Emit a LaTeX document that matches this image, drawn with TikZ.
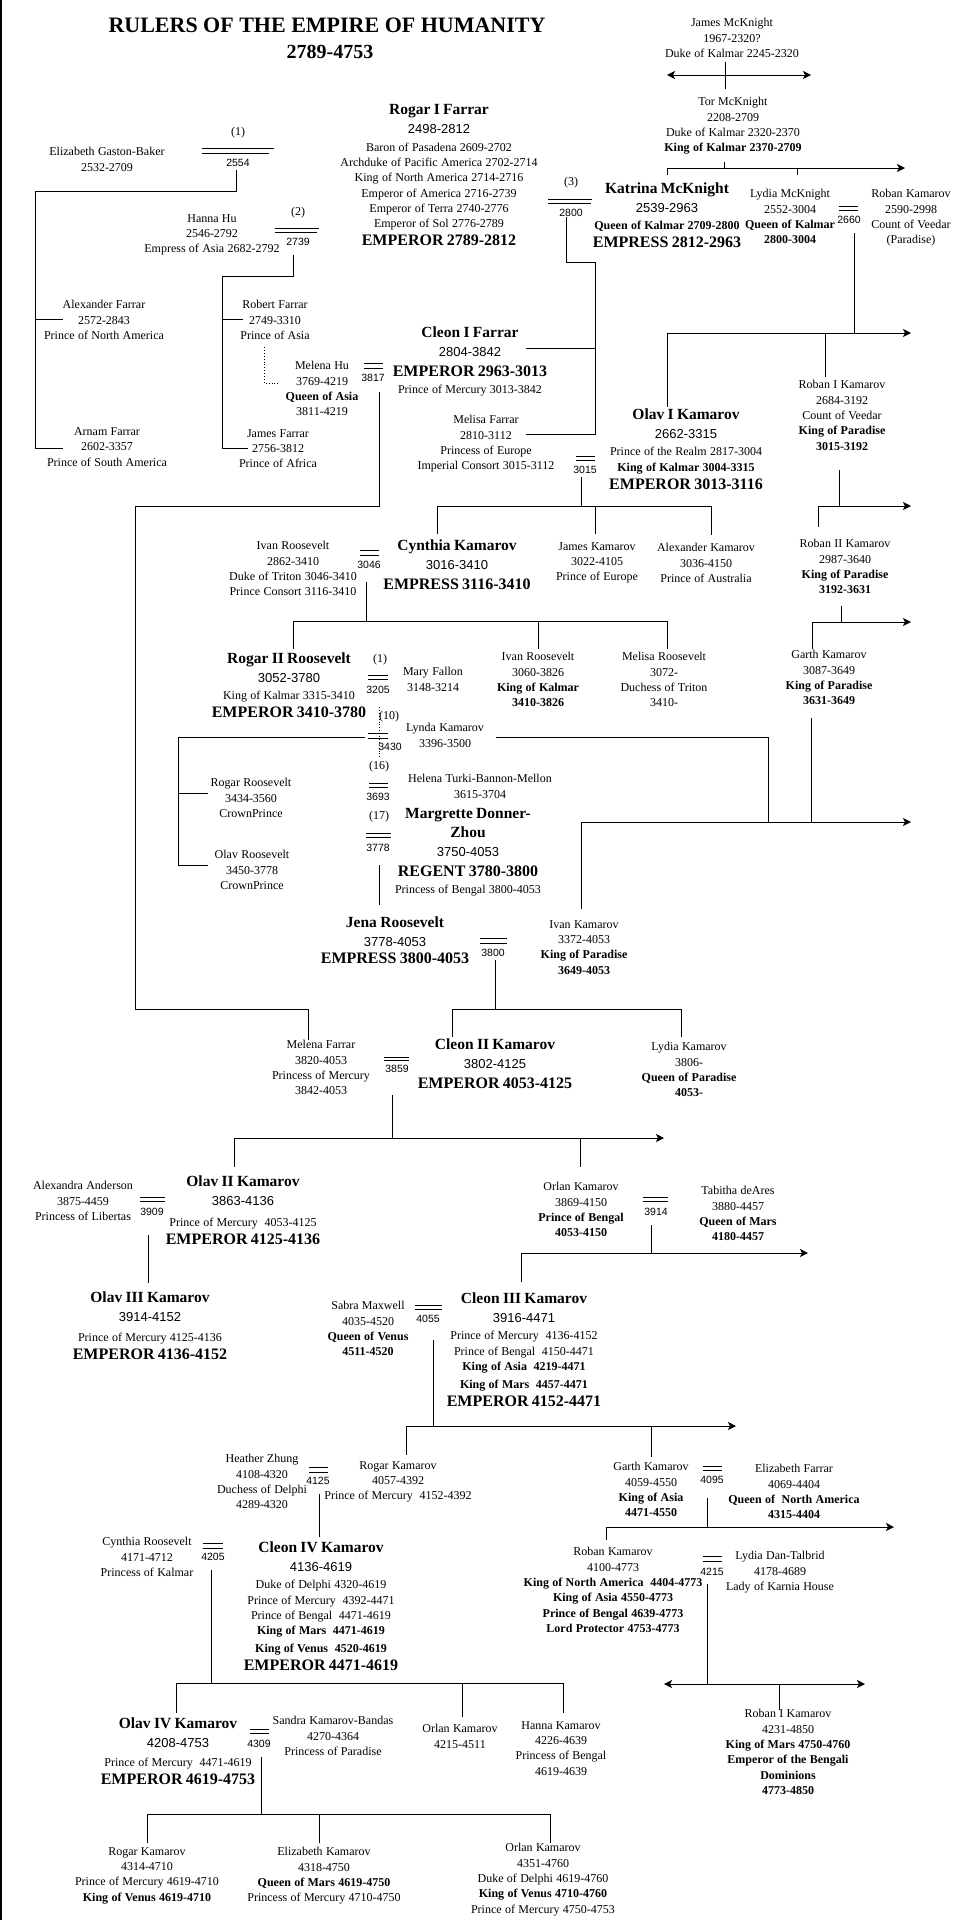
\documentclass[tikz,border=0pt]{standalone}
\usepackage{fontspec}
\setmainfont{Liberation Serif}
\setsansfont{Liberation Sans}
\usetikzlibrary{arrows.meta}
\newcommand\pNm[1]{{\fontsize{15.5}{19}\selectfont\bfseries #1\par}}
\newcommand\pDt[1]{{\fontsize{13}{19}\selectfont\sffamily #1\par}\vspace{2pt}}
\newcommand\pEm[1]{{\fontsize{16}{18}\selectfont\bfseries #1\par}\vspace{1.5pt}}
\newcommand\pSm[1]{{\fontsize{12}{15.3}\selectfont #1\par}}
\newcommand\pSb[1]{{\fontsize{12}{15.3}\selectfont\bfseries #1\par}}
\begin{document}
\begin{tikzpicture}[x=1pt,y=-1pt,
 ln/.style={line width=1pt},
 dl/.style={line width=0.9pt},
 dt/.style={line width=0.9pt,dotted},
 arr/.style={ln,-{Stealth[length=8pt,width=8pt,inset=2pt]}},
 darr/.style={ln,{Stealth[length=8pt,width=8pt,inset=2pt]}-{Stealth[length=8pt,width=8pt,inset=2pt]}},
 pn/.style={anchor=north,yshift=4.7pt,text width=240pt,align=center,inner sep=0pt,execute at begin node={\parindent=0pt}},
 pk/.style={anchor=north,yshift=5.5pt,text width=240pt,align=center,inner sep=0pt,execute at begin node={\parindent=0pt}},
 yr/.style={font=\sffamily\fontsize{10.5}{12}\selectfont,inner sep=1pt},
 lb/.style={font=\fontsize{12}{14}\selectfont,inner sep=0pt},
 ttl/.style={font=\bfseries\fontsize{22}{26}\selectfont,inner sep=0pt},
 ttlb/.style={font=\bfseries\fontsize{20}{24}\selectfont,inner sep=0pt}]
\useasboundingbox (0,0) rectangle (969,1920);
\fill[white] (0,0) rectangle (969,1920);
\draw[line width=1.5pt] (0.75,0) -- (0.75,1920);

% titles
\node[ttl] (title) at (327,25) {RULERS OF THE EMPIRE OF HUMANITY};
\node[ttlb] (title2) at (330,52) {2789-4753};

% people
\node[pn] (egb) at (107,152) {\pSm{Elizabeth Gaston-Baker}\pSm{2532-2709}};
\node[pk] (rogar1) at (439,110) {\pNm{Rogar I Farrar}\pDt{2498-2812}\pSm{Baron of Pasadena 2609-2702}\pSm{Archduke of Pacific America 2702-2714}\pSm{King of North America 2714-2716}\pSm{Emperor of America 2716-2739}\pSm{Emperor of Terra 2740-2776}\pSm{Emperor of Sol 2776-2789}\pEm{EMPEROR 2789-2812}};
\node[pn] (hannahu) at (212,219) {\pSm{Hanna Hu}\pSm{2546-2792}\pSm{Empress of Asia 2682-2792}};
\node[pn] (alexf) at (104,305) {\pSm{Alexander Farrar}\pSm{2572-2843}\pSm{Prince of North America}};
\node[pn] (robertf) at (275,305) {\pSm{Robert Farrar}\pSm{2749-3310}\pSm{Prince of Asia}};
\node[pn] (arnamf) at (107,432) {\pSm{Arnam Farrar}\pSm{2602-3357}\pSm{Prince of South America}};
\node[pn] (jamesf) at (278,434) {\pSm{James Farrar}\pSm{2756-3812}\pSm{Prince of Africa}};
\node[pn] (melenahu) at (322,366) {\pSm{Melena Hu}\pSm{3769-4219}\pSb{Queen of Asia}\pSm{3811-4219}};
\node[pn] (jamesmck) at (732,23) {\pSm{James McKnight}\pSm{1967-2320?}\pSm{Duke of Kalmar 2245-2320}};
\node[pn] (tormck) at (733,102) {\pSm{Tor McKnight}\pSm{2208-2709}\pSm{Duke of Kalmar 2320-2370}\pSb{King of Kalmar 2370-2709}};
\node[pk] (katrina) at (667,188) {\pNm{Katrina McKnight}\pDt{2539-2963}\pSb{Queen of Kalmar 2709-2800}\pEm{EMPRESS 2812-2963}};
\node[pn] (lydiamck) at (790,194) {\pSm{Lydia McKnight}\pSm{2552-3004}\pSb{Queen of Kalmar}\pSb{2800-3004}};
\node[pn] (robank) at (911,194) {\pSm{Roban Kamarov}\pSm{2590-2998}\pSm{Count of Veedar}\pSm{(Paradise)}};
\node[pk] (cleon1) at (470,332) {\pNm{Cleon I Farrar}\pDt{2804-3842}\pEm{EMPEROR 2963-3013}\pSm{Prince of Mercury 3013-3842}};
\node[pn] (melisaf) at (486,420) {\pSm{Melisa Farrar}\pSm{2810-3112}\pSm{Princess of Europe}\pSm{Imperial Consort 3015-3112}};
\node[pk] (olav1) at (686,414) {\pNm{Olav I Kamarov}\pDt{2662-3315}\pSm{Prince of the Realm 2817-3004}\pSb{King of Kalmar 3004-3315}\pEm{EMPEROR 3013-3116}};
\node[pn] (roban1) at (842,385) {\pSm{Roban I Kamarov}\pSm{2684-3192}\pSm{Count of Veedar}\pSb{King of Paradise}\pSb{3015-3192}};
\node[pk] (cynthia) at (457,545) {\pNm{Cynthia Kamarov}\pDt{3016-3410}\pEm{EMPRESS 3116-3410}};
\node[pn] (ivanr) at (293,546) {\pSm{Ivan Roosevelt}\pSm{2862-3410}\pSm{Duke of Triton 3046-3410}\pSm{Prince Consort 3116-3410}};
\node[pn] (jamesk) at (597,547) {\pSm{James Kamarov}\pSm{3022-4105}\pSm{Prince of Europe}};
\node[pn] (alexk) at (706,548) {\pSm{Alexander Kamarov}\pSm{3036-4150}\pSm{Prince of Australia}};
\node[pn] (roban2) at (845,544) {\pSm{Roban II Kamarov}\pSm{2987-3640}\pSb{King of Paradise}\pSb{3192-3631}};
\node[pk] (rogar2) at (289,658) {\pNm{Rogar II Roosevelt}\pDt{3052-3780}\pSm{King of Kalmar 3315-3410}\pEm{EMPEROR 3410-3780}};
\node[pn] (maryf) at (433,672) {\pSm{Mary Fallon}\pSm{3148-3214}};
\node[pn] (ivanr2) at (538,657) {\pSm{Ivan Roosevelt}\pSm{3060-3826}\pSb{King of Kalmar}\pSb{3410-3826}};
\node[pn] (melisar) at (664,657) {\pSm{Melisa Roosevelt}\pSm{3072-}\pSm{Duchess of Triton}\pSm{3410-}};
\node[pn] (garthk1) at (829,655) {\pSm{Garth Kamarov}\pSm{3087-3649}\pSb{King of Paradise}\pSb{3631-3649}};
\node[pn] (lyndak) at (445,728) {\pSm{Lynda Kamarov}\pSm{3396-3500}};
\node[pn] (rogarr) at (251,783) {\pSm{Rogar Roosevelt}\pSm{3434-3560}\pSm{CrownPrince}};
\node[pn] (olavr) at (252,855) {\pSm{Olav Roosevelt}\pSm{3450-3778}\pSm{CrownPrince}};
\node[pn] (helena) at (480,779) {\pSm{Helena Turki-Bannon-Mellon}\pSm{3615-3704}};
\node[pk] (margrette) at (468,814) {\pNm{Margrette Donner-}\pNm{Zhou}\pDt{3750-4053}\pEm{REGENT 3780-3800}\pSm{Princess of Bengal 3800-4053}};
\node[pk] (jena) at (395,922) {\pNm{Jena Roosevelt}\pDt{3778-4053}\vspace{-3pt}\pEm{EMPRESS 3800-4053}};
\node[pn] (ivank) at (584,925) {\pSm{Ivan Kamarov}\pSm{3372-4053}\pSb{King of Paradise}\pSb{3649-4053}};
\node[pn] (melenaf) at (321,1045) {\pSm{Melena Farrar}\pSm{3820-4053}\pSm{Princess of Mercury}\pSm{3842-4053}};
\node[pk] (cleon2) at (495,1044) {\pNm{Cleon II Kamarov}\pDt{3802-4125}\pEm{EMPEROR 4053-4125}};
\node[pn] (lydiak) at (689,1047) {\pSm{Lydia Kamarov}\pSm{3806-}\pSb{Queen of Paradise}\pSb{4053-}};
\node[pk] (olav2) at (243,1181) {\pNm{Olav II Kamarov}\pDt{3863-4136}\vspace{3.5pt}\pSm{Prince of Mercury~ 4053-4125}\pEm{EMPEROR 4125-4136}};
\node[pn] (alexa) at (83,1186) {\pSm{Alexandra Anderson}\pSm{3875-4459}\pSm{Princess of Libertas}};
\node[pn] (orlank1) at (581,1187) {\pSm{Orlan Kamarov}\pSm{3869-4150}\pSb{Prince of Bengal}\pSb{4053-4150}};
\node[pn] (tabitha) at (738,1191) {\pSm{Tabitha deAres}\pSm{3880-4457}\pSb{Queen of Mars}\pSb{4180-4457}};
\node[pk] (olav3) at (150,1297) {\pNm{Olav III Kamarov}\pDt{3914-4152}\vspace{2.5pt}\pSm{Prince of Mercury 4125-4136}\pEm{EMPEROR 4136-4152}};
\node[pn] (sabra) at (368,1306) {\pSm{Sabra Maxwell}\pSm{4035-4520}\pSb{Queen of Venus}\pSb{4511-4520}};
\node[pk] (cleon3) at (524,1298) {\pNm{Cleon III Kamarov}\pDt{3916-4471}\pSm{Prince of Mercury~ 4136-4152}\pSm{Prince of Bengal~ 4150-4471}\pSb{King of Asia~ 4219-4471}\vspace{2.5pt}\pSb{King of Mars~ 4457-4471}\pEm{EMPEROR 4152-4471}};
\node[pn] (heather) at (262,1459) {\pSm{Heather Zhung}\pSm{4108-4320}\pSm{Duchess of Delphi}\pSm{4289-4320}};
\node[pn] (rogark1) at (398,1466) {\pSm{Rogar Kamarov}\pSm{4057-4392}\pSm{Prince of Mercury~ 4152-4392}};
\node[pn] (garthk2) at (651,1467) {\pSm{Garth Kamarov}\pSm{4059-4550}\pSb{King of Asia}\pSb{4471-4550}};
\node[pn] (elizf) at (794,1469) {\pSm{Elizabeth Farrar}\pSm{4069-4404}\pSb{Queen of~ North America}\pSb{4315-4404}};
\node[pn] (cynthiar) at (147,1542) {\pSm{Cynthia Roosevelt}\pSm{4171-4712}\pSm{Princess of Kalmar}};
\node[pk] (cleon4) at (321,1547) {\pNm{Cleon IV Kamarov}\pDt{4136-4619}\pSm{Duke of Delphi 4320-4619}\pSm{Prince of Mercury~ 4392-4471}\pSm{Prince of Bengal~ 4471-4619}\pSb{King of Mars~ 4471-4619}\vspace{2.5pt}\pSb{King of Venus~ 4520-4619}\pEm{EMPEROR 4471-4619}};
\node[pn] (robankam) at (613,1552) {\pSm{Roban Kamarov}\pSm{4100-4773}\pSb{King of North America~ 4404-4773}\pSb{King of Asia 4550-4773}\pSb{Prince of Bengal 4639-4773}\pSb{Lord Protector 4753-4773}};
\node[pn] (lydiadt) at (780,1556) {\pSm{Lydia Dan-Talbrid}\pSm{4178-4689}\pSm{Lady of Karnia House}};
\node[pk] (olav4) at (178,1723) {\pNm{Olav IV Kamarov}\pDt{4208-4753}\vspace{1.5pt}\pSm{Prince of Mercury~ 4471-4619}\pEm{EMPEROR 4619-4753}};
\node[pn] (sandra) at (333,1721) {\pSm{Sandra Kamarov-Bandas}\pSm{4270-4364}\pSm{Princess of Paradise}};
\node[pn] (orlank2) at (460,1729) {\pSm{Orlan Kamarov}\pSm{4215-4511}};
\node[pn] (hannak) at (561,1726) {\pSm{Hanna Kamarov}\pSm{4226-4639}\pSm{Princess of Bengal}\pSm{4619-4639}};
\node[pn] (roban1b) at (788,1714) {\pSm{Roban I Kamarov}\pSm{4231-4850}\pSb{King of Mars 4750-4760}\pSb{Emperor of the Bengali}\pSb{Dominions}\pSb{4773-4850}};
\node[pn] (rogark2) at (147,1852) {\pSm{Rogar Kamarov}\pSm{4314-4710}\pSm{Prince of Mercury 4619-4710}\pSb{King of Venus 4619-4710}};
\node[pn] (elizk) at (324,1852) {\pSm{Elizabeth Kamarov}\pSm{4318-4750}\pSb{Queen of Mars 4619-4750}\pSm{Princess of Mercury 4710-4750}};
\node[pn] (orlank3) at (543,1848) {\pSm{Orlan Kamarov}\pSm{4351-4760}\pSm{Duke of Delphi 4619-4760}\pSb{King of Venus 4710-4760}\pSm{Prince of Mercury 4750-4753}};

% marriage labels and years
\node[lb] (n1a) at (238,133) {(1)};
\node[lb] (n2) at (298,213) {(2)};
\node[lb] (n3) at (571,183) {(3)};
\node[lb] (n1b) at (380,660) {(1)};
\node[lb] (n10) at (389,717) {(10)};
\node[lb] (n16) at (379,767) {(16)};
\node[lb] (n17) at (379,817) {(17)};
\node[yr] (m2554) at (238,163) {2554};
\node[yr] (m2739) at (298,242) {2739};
\node[yr] (m3817) at (373,378) {3817};
\node[yr] (m2800) at (571,213) {2800};
\node[yr] (m2660) at (849,220) {2660};
\node[yr] (m3015) at (585,470) {3015};
\node[yr] (m3046) at (369,565) {3046};
\node[yr] (m3205) at (378,690) {3205};
\node[yr] (m3430) at (390,747) {3430};
\node[yr] (m3693) at (378,797) {3693};
\node[yr] (m3778) at (378,848) {3778};
\node[yr] (m3800) at (493,953) {3800};
\node[yr] (m3859) at (397,1069) {3859};
\node[yr] (m3909) at (152,1212) {3909};
\node[yr] (m3914) at (656,1212) {3914};
\node[yr] (m4055) at (428,1319) {4055};
\node[yr] (m4125) at (318,1481) {4125};
\node[yr] (m4095) at (712,1480) {4095};
\node[yr] (m4205) at (213,1557) {4205};
\node[yr] (m4215) at (712,1572) {4215};
\node[yr] (m4309) at (259,1744) {4309};

% double lines
\draw[dl] (202,148) -- (274,148) (202,153) -- (269,153);
\draw[dl] (275,228) -- (319,228) (275,232) -- (317,232);
\draw[dl] (364,363) -- (383,363) (364,368) -- (383,368);
\draw[dl] (548,199) -- (592,199) (548,203) -- (591,203);
\draw[dl] (839,206) -- (858,206) (839,210) -- (858,210);
\draw[dl] (576,456) -- (595,456) (576,460) -- (595,460);
\draw[dl] (360,550) -- (379,550) (360,555) -- (379,555);
\draw[dl] (368,675) -- (388,675) (368,679) -- (388,679);
\draw[dl] (368,733) -- (388,733) (368,738) -- (388,738);
\draw[dl] (369,783) -- (388,783) (369,787) -- (388,787);
\draw[dl] (366,833) -- (391,833) (366,837) -- (391,837);
\draw[dl] (480,938) -- (507,938) (480,943) -- (507,943);
\draw[dl] (384,1057) -- (409,1057) (384,1060) -- (409,1060);
\draw[dl] (140,1197) -- (165,1197) (140,1201) -- (165,1201);
\draw[dl] (643,1197) -- (668,1197) (643,1201) -- (668,1201);
\draw[dl] (415,1305) -- (442,1305) (415,1309) -- (442,1309);
\draw[dl] (309,1467) -- (328,1467) (309,1472) -- (328,1472);
\draw[dl] (703,1466) -- (722,1466) (703,1470) -- (722,1470);
\draw[dl] (203,1543) -- (223,1543) (203,1548) -- (223,1548);
\draw[dl] (703,1556) -- (722,1556) (703,1561) -- (722,1561);
\draw[dl] (250,1729) -- (269,1729) (250,1733) -- (269,1733);

% connector anchor coordinates
\coordinate (d2554) at (236,170);
\coordinate (d2739) at (293,255);
\coordinate (d3817) at (379,392);
\coordinate (d2800) at (566,217);
\coordinate (d2660) at (854,233);
\coordinate (d3015) at (581,477);
\coordinate (d3046) at (366,582);
\coordinate (d3778) at (379,865);
\coordinate (d3800) at (495,960);
\coordinate (d3859) at (392,1095);
\coordinate (d3909) at (148,1235);
\coordinate (d3914) at (651,1225);
\coordinate (d4055) at (433,1340);
\coordinate (d4125) at (319,1494);
\coordinate (d4095) at (707,1498);
\coordinate (d4205) at (211,1570);
\coordinate (d4215) at (707,1584);
\coordinate (d4309) at (261,1757);
\coordinate (dtor) at (724,162);
\coordinate (dr1) at (839,470);
\coordinate (dr2) at (841,606);
\coordinate (dgk) at (811,718);
\coordinate (dly) at (496,737);
\coordinate (d3430) at (365,737);
\coordinate (kalexf) at (63,319);
\coordinate (karnamf) at (63,448);
\coordinate (krobertf) at (243,319);
\coordinate (kjamesf) at (248,448);
\coordinate (kmelenaf) at (308,1040);
\coordinate (kcleon1) at (526,348);
\coordinate (kmelisaf) at (526,434);
\coordinate (jmA) at (725,62);
\coordinate (jmB) at (725,89);
\coordinate (jmL) at (667,75);
\coordinate (jmR) at (811,75);

% connectors
\draw[ln] (d2554) |- (35,191) |- (karnamf);
\draw[ln] (35,319) -- (kalexf);
\draw[ln] (d2739) |- (222,276) |- (kjamesf);
\draw[ln] (222,319) -- (krobertf);
\draw[dt] (264,347) |- (278,383);
\draw[ln] (d3817) |- (135,506) |- (308,1009) -- (kmelenaf);
\draw[ln] (d2800) |- (595,262) |- (kmelisaf);
\draw[ln] (595,348) -- (kcleon1);
\draw[darr] (jmL) -- (jmR);
\draw[ln] (jmA) -- (jmB);
\draw[ln] (dtor) -- (724,168);
\draw[arr] (667,168) -- (905,168);
\draw[ln] (667,168) -- (667,175) (797,168) -- (797,175);
\draw[ln] (d2660) -- (854,333);
\draw[arr] (667,333) -- (911,333);
\draw[ln] (667,333) -- (667,407) (825,333) -- (825,377);
\draw[ln] (d3015) -- (581,506);
\draw[ln] (437,534) -- (437,506) -- (711,506) -- (711,535);
\draw[ln] (595,506) -- (595,534);
\draw[ln] (dr1) -- (839,506);
\draw[arr] (818,506) -- (911,506);
\draw[ln] (818,506) -- (818,527);
\draw[ln] (d3046) -- (366,621);
\draw[ln] (293,649) -- (293,621) -- (667,621) -- (667,649);
\draw[ln] (538,621) -- (538,649);
\draw[ln] (dr2) -- (841,622);
\draw[arr] (812,622) -- (911,622);
\draw[ln] (812,622) -- (812,649);
\draw[ln] (d3430) -| (178,865) -- (208,865);
\draw[ln] (178,793) -- (208,793);
\draw[dt] (379,707) -- (379,757);
\draw[ln] (dly) -| (768,822);
\draw[ln] (dgk) -- (811,822);
\draw[arr] (581,822) -- (911,822);
\draw[ln] (581,822) -- (581,909);
\draw[ln] (d3778) -- (379,905);
\draw[ln] (d3800) -- (495,1009);
\draw[ln] (452,1037) -- (452,1009) -- (681,1009) -- (681,1037);
\draw[ln] (d3859) -- (392,1138);
\draw[arr] (234,1138) -- (664,1138);
\draw[ln] (234,1138) -- (234,1167) (580,1138) -- (580,1167);
\draw[ln] (d3909) -- (148,1283);
\draw[ln] (d3914) -- (651,1253);
\draw[arr] (521,1253) -- (808,1253);
\draw[ln] (521,1253) -- (521,1282);
\draw[ln] (d4055) -- (433,1426);
\draw[arr] (406,1426) -- (736,1426);
\draw[ln] (406,1426) -- (406,1455) (651,1426) -- (651,1457);
\draw[ln] (d4125) -- (319,1537);
\draw[ln] (d4095) -- (707,1527);
\draw[arr] (606,1527) -- (894,1527);
\draw[ln] (606,1527) -- (606,1540);
\draw[ln] (d4205) -- (211,1683);
\draw[ln] (176,1713) -- (176,1683) -- (563,1683) -- (563,1713);
\draw[ln] (462,1683) -- (462,1717);
\draw[ln] (d4215) -- (707,1684);
\draw[darr] (664,1684) -- (865,1684);
\draw[ln] (779,1684) -- (779,1710);
\draw[ln] (d4309) -- (261,1814);
\draw[ln] (147,1843) -- (147,1814) -- (550,1814) -- (550,1843);
\draw[ln] (319,1814) -- (319,1843);
\end{tikzpicture}
\end{document}
